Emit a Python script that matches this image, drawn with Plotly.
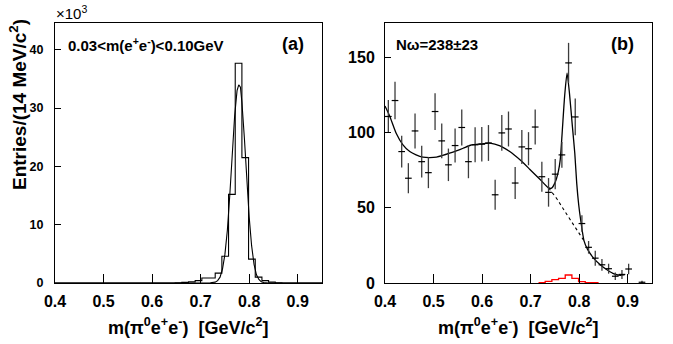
import numpy as np
import plotly.graph_objects as go

W, H = 673, 344

# ---- binning (40 bins of 13.75 MeV between 0.4 and 0.95 GeV) ----
BIN_LO, BIN_HI, N_BINS = 0.4, 0.95, 40

# ---- panel (a): histogram (x10^3 entries per bin) ----
hist_a = [0] * 18 + [0.05, 0.1, 0.2, 0.4, 0.85, 0.85, 1.7, 4.6, 15.2, 37.7,
                     21.5, 4.1, 1.0, 0.4, 0.15, 0.05] + [0] * 6
# fit curve of panel (a)
fit_a_x = [0.40, 0.70, 0.72, 0.73, 0.735, 0.74, 0.745, 0.75, 0.755, 0.76, 0.765,
           0.77, 0.775, 0.7785, 0.782, 0.785, 0.79, 0.795, 0.80, 0.805, 0.81,
           0.815, 0.82, 0.825, 0.83, 0.84, 0.95]
fit_a_y = [0.0, 0.0, 0.05, 0.15, 0.4, 1.0, 2.4, 4.9, 9.0, 15.0, 22.0,
           28.6, 33.0, 34.0, 33.6, 31.0, 25.0, 18.0, 11.3, 6.4, 3.2,
           1.4, 0.6, 0.2, 0.07, 0.01, 0.0]

# ---- panel (b): data points per bin (None = empty bin) ----
pts_b = [110.6, 121.2, 87.3, 69.6, 101.0, 80.6, 73.3, 113.9, 94.4, 78.5,
         91.3, 103.3, 80.6, 91.8, 92.2, 93.0, 58.6, 99.7, 102.3, 66.4,
         90.4, 89.2, 103.6, 70.6, 60.2, 72.3, 85.1, 146.2, 110.3, 39.5,
         23.7, 16.5, 12.1, 9.5, 4.5, 5.7, 9.3, None, 0.5, None]
err_b = [11.0, 12.5, 10.5, 10.0, 11.6, 10.5, 10.3, 12.2, 11.6, 10.8,
         11.3, 11.9, 11.0, 11.6, 11.5, 11.9, 10.0, 11.9, 11.6, 10.6,
         11.3, 11.0, 11.6, 10.0, 9.5, 10.0, 8.5, 13.3, 12.2, 5.5,
         4.2, 5.0, 3.9, 3.3, 2.5, 3.0, 3.5, None, 1.0, None]
# red histogram (peaking background)
red_b = [0] * 23 + [0.2, 1.1, 2.2, 3.1, 5.3, 3.1, 0.9, 0.2, 0.2] + [0] * 8

# total fit curve
fit_b_x = [0.400, 0.410, 0.423, 0.437, 0.451, 0.464, 0.478, 0.492, 0.506, 0.519,
           0.533, 0.547, 0.561, 0.576, 0.596, 0.616, 0.637, 0.657, 0.678, 0.698,
           0.719, 0.736, 0.743, 0.750, 0.757, 0.761, 0.765, 0.770, 0.775, 0.780,
           0.786, 0.791, 0.795, 0.799, 0.803, 0.810, 0.817, 0.830, 0.844, 0.858,
           0.872, 0.886, 0.894]
fit_b_y = [117.5, 110.6, 99.5, 91.8, 87.3, 85.1, 83.6, 83.3, 83.6, 84.7,
           86.2, 87.8, 89.5, 91.5, 92.4, 92.9, 91.1, 87.3, 81.8, 75.6,
           68.9, 63.4, 63.0, 66.5, 74.0, 82.0, 100.0, 124.0, 139.4, 126.0,
           104.0, 86.0, 66.0, 52.0, 42.0, 28.0, 22.5, 16.4, 12.0, 8.6,
           6.0, 5.0, 5.5]
# background-only curve (dashed)
bkg_b_x = [0.737, 0.755, 0.770, 0.785, 0.800, 0.812]
bkg_b_y = [63.2, 55.5, 47.8, 40.2, 33.5, 27.0]

edges = np.linspace(BIN_LO, BIN_HI, N_BINS + 1)
centers = 0.5 * (edges[:-1] + edges[1:])
half = 0.5 * (edges[1] - edges[0])

FONT = "Liberation Sans"

def px(x):
    return x / W

def py(y):
    return 1 - y / H

fig = go.Figure()

# panel (a)
fig.add_trace(go.Scatter(x=list(edges), y=hist_a + [hist_a[-1]], mode="lines",
                         line=dict(shape="hv", color="black", width=1.1),
                         xaxis="x", yaxis="y", showlegend=False, hoverinfo="skip"))
fig.add_trace(go.Scatter(x=fit_a_x, y=fit_a_y, mode="lines",
                         line=dict(color="black", width=1.1),
                         xaxis="x", yaxis="y", showlegend=False))

# panel (b)
nz = [i for i, v in enumerate(red_b) if v > 0]
i0, i1 = nz[0], nz[-1]
fig.add_trace(go.Scatter(x=list(edges[i0:i1 + 2]),
                         y=red_b[i0:i1 + 1] + [red_b[i1]], mode="lines",
                         line=dict(shape="hv", color="red", width=1.3),
                         xaxis="x2", yaxis="y2", showlegend=False))
fig.add_trace(go.Scatter(x=bkg_b_x, y=bkg_b_y, mode="lines",
                         line=dict(color="black", width=1.1, dash="3px,3px"),
                         xaxis="x2", yaxis="y2", showlegend=False))
fig.add_trace(go.Scatter(x=fit_b_x, y=fit_b_y, mode="lines",
                         line=dict(color="black", width=1.3, shape="spline", smoothing=0.6),
                         xaxis="x2", yaxis="y2", showlegend=False))
fig.add_trace(go.Scatter(x=list(centers), y=pts_b, mode="markers",
                         marker=dict(size=1, color="black"),
                         error_y=dict(type="data", array=err_b, visible=True,
                                      color="#3c3c3c", thickness=1.3, width=0),
                         error_x=dict(type="data", array=[half] * N_BINS, visible=True,
                                      color="black", thickness=1.2, width=0),
                         xaxis="x2", yaxis="y2", showlegend=False))

tickfont = dict(family=FONT, size=16, color="black", weight="bold")
common_x = dict(range=[BIN_LO, BIN_HI], tickvals=[0.4, 0.5, 0.6, 0.7, 0.8, 0.9],
                ticktext=["0.4", "0.5", "0.6", "0.7", "0.8", "0.9"],
                ticks="inside", ticklen=9, tickwidth=1, tickcolor="black",
                showline=True, linecolor="black", linewidth=1, mirror=True,
                showgrid=False, zeroline=False, tickfont=tickfont,
                ticklabelstandoff=4, automargin=False)
common_y = dict(ticks="inside", ticklen=6, tickwidth=1, tickcolor="black",
                showline=True, linecolor="black", linewidth=1, mirror=True,
                showgrid=False, zeroline=False, automargin=False)

ytop, ybot = py(23), py(283)
fig.update_layout(
    width=W, height=H, margin=dict(l=0, r=0, t=0, b=0, autoexpand=False),
    paper_bgcolor="white", plot_bgcolor="white",
    xaxis=dict(domain=[px(55), px(322)], anchor="y", **common_x),
    yaxis=dict(domain=[ybot, ytop], anchor="x", range=[0, 44.6],
               tickvals=[0, 10, 20, 30, 40], ticklabelstandoff=8,
               tickfont=dict(family=FONT, size=12.5, color="black", weight="bold"),
               **common_y),
    xaxis2=dict(domain=[px(385), px(652)], anchor="y2", **common_x),
    yaxis2=dict(domain=[ybot, ytop], anchor="x2", range=[0, 172.7],
                tickvals=[0, 50, 100, 150], tickfont=tickfont, ticklabelstandoff=6,
                **common_y),
)

bold = dict(family=FONT, color="black", weight="bold")
xtitle = "m(π<sup>0</sup>e<sup>+</sup>e<sup>-</sup>)  [GeV/c<sup>2</sup>]"
ann = [
    dict(x=px(188), y=py(326), text=xtitle, font=dict(size=18, **bold)),
    dict(x=px(518), y=py(326), text=xtitle, font=dict(size=18, **bold)),
    dict(x=px(18), y=py(105), text="Entries/(14 MeV/c<sup>2</sup>)", textangle=-90,
         font=dict(size=19, **bold)),
    dict(x=px(54), y=py(13), text="×10<sup>3</sup>", xanchor="left",
         font=dict(size=15, family=FONT, color="black")),
    dict(x=px(66), y=py(44), text="0.03<m(e<sup>+</sup>e<sup>-</sup>)<0.10GeV",
         xanchor="left", font=dict(size=15, **bold)),
    dict(x=px(306), y=py(44), text="(a)", xanchor="right", font=dict(size=18, **bold)),
    dict(x=px(394), y=py(44), text="Nω=238±23", xanchor="left", font=dict(size=15, **bold)),
    dict(x=px(636), y=py(44), text="(b)", xanchor="right", font=dict(size=18, **bold)),
]
for a in ann:
    a.setdefault("xanchor", "center")
    a.update(xref="paper", yref="paper", yanchor="middle", showarrow=False)
fig.update_layout(annotations=ann)

fig.write_html("out.html", config={"displayModeBar": False},
               post_script="document.body.style.margin='0';document.body.style.overflow='hidden';")
